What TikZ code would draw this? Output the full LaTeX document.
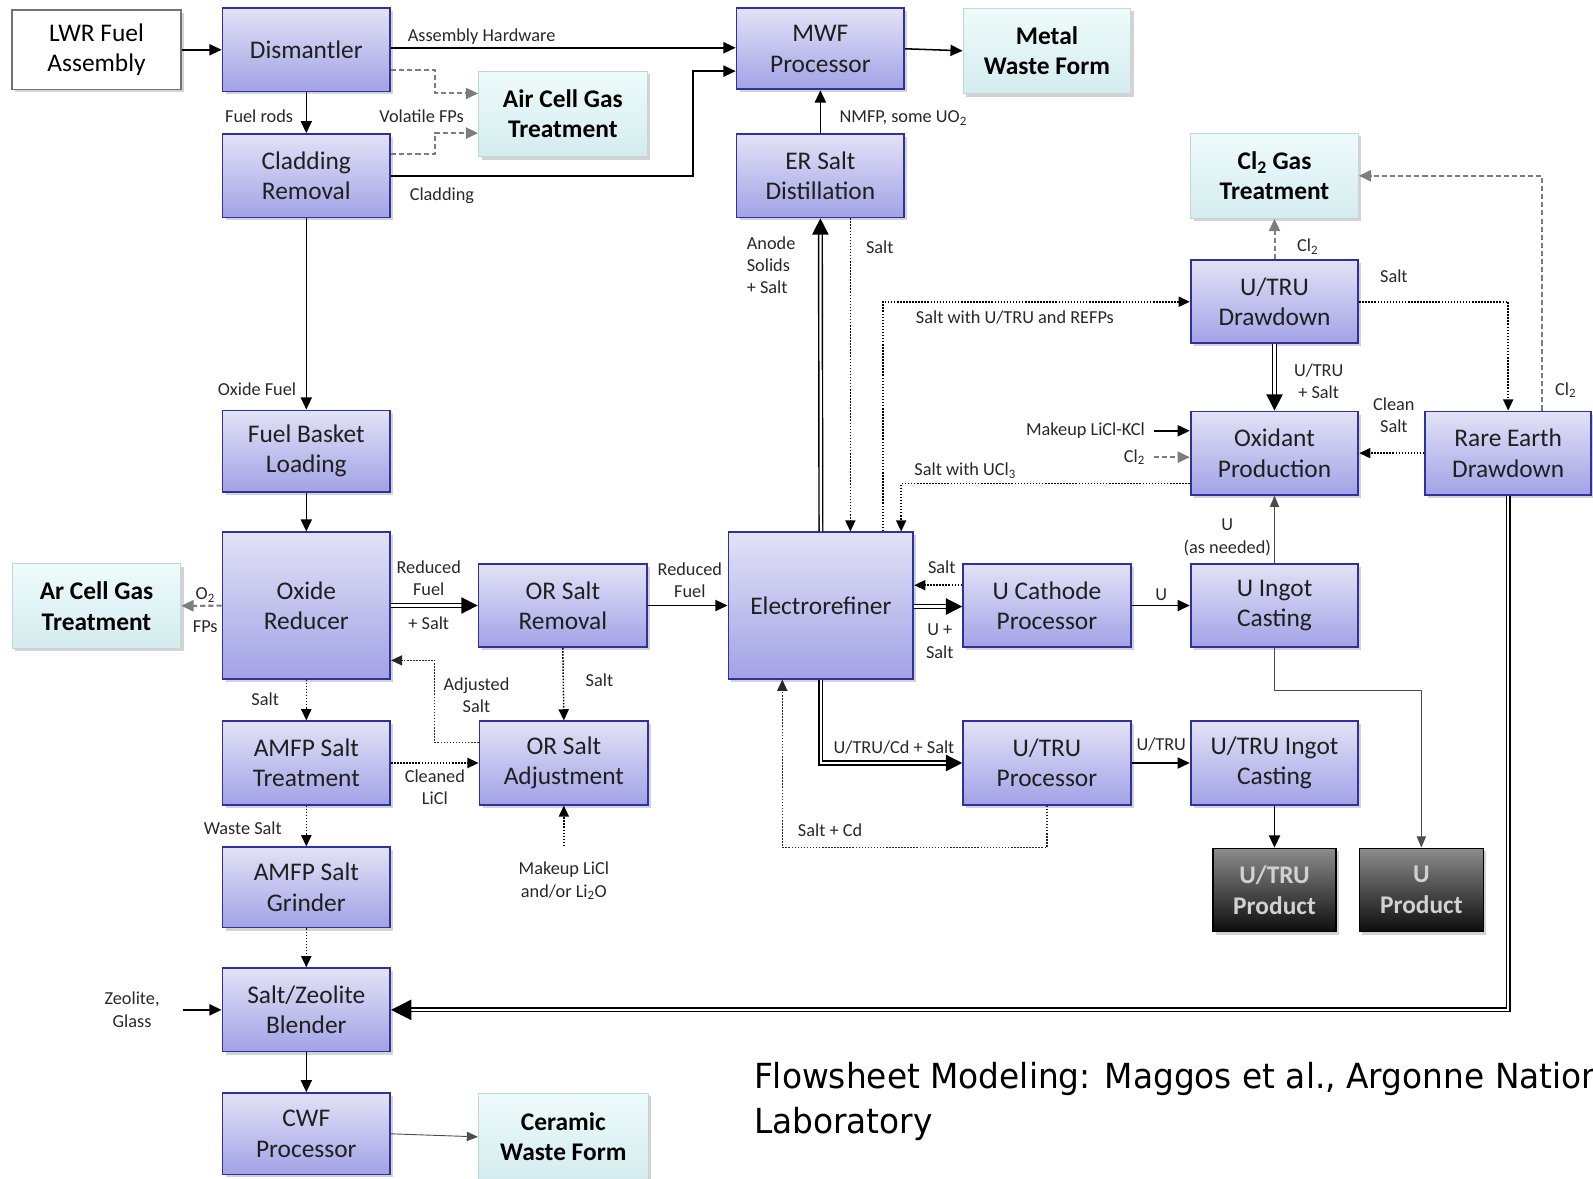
\documentclass[tikz,border=0pt]{standalone}
\usepackage{fontspec}
\setmainfont{Carlito}
\newfontfamily\footfont[FakeStretch=0.95]{DejaVu Sans}
\usetikzlibrary{arrows.meta,shadows,calc}
\definecolor{procT}{RGB}{226,226,246}
\definecolor{procB}{RGB}{162,162,230}
\definecolor{procD}{RGB}{48,48,160}
\definecolor{wasT}{RGB}{238,251,251}
\definecolor{wasB}{RGB}{212,236,238}
\definecolor{wasD}{RGB}{196,214,216}
\definecolor{lblc}{RGB}{40,40,40}
\definecolor{gline}{RGB}{125,125,125}
\begin{document}
\begin{tikzpicture}[x=1pt,y=-1pt,
  box/.style={minimum width=165pt, minimum height=82pt, inner sep=0pt, align=center,
    font=\fontsize{25}{30}\selectfont,
    drop shadow={shadow xshift=3pt,shadow yshift=-3pt,opacity=0.35}},
  proc/.style={box, draw=procD, line width=1.8pt, top color=procT, bottom color=procB, text=black!88},
  waste/.style={box, draw=wasD, line width=1pt, top color=wasT, bottom color=wasB,
    font=\fontsize{25}{30}\selectfont\bfseries},
  lwrbox/.style={box, draw=black!55, line width=1.5pt, fill=white},
  prod/.style={box, draw=black, line width=1.5pt, top color=black!45, bottom color=black!95,
    text=black!18, font=\fontsize{25}{30}\selectfont\bfseries},
  lbl/.style={font=\fontsize{18}{22}\selectfont, text=lblc, inner sep=0pt, align=center},
  arr/.style={draw=black, line width=1.5pt, -{Triangle[length=12pt,width=11pt]}},
  thinarr/.style={draw=black!70, line width=0.9pt, -{Triangle[length=11pt,width=9pt]}},
  dotarr/.style={draw=black, line width=1.5pt, dash pattern=on 1.5pt off 1.5pt, -{Triangle[length=11pt,width=10pt]}},
  dotthin/.style={draw=black!85, line width=1.1pt, dash pattern=on 1.5pt off 1.5pt, -{Triangle[length=11pt,width=10pt]}},
  gdash/.style={draw=gline, line width=2pt, dash pattern=on 5pt off 3pt, -{Triangle[length=12pt,width=11pt]}},
  dbl/.style={draw=black, line width=1.4pt, double=white, double distance=2.2pt, -{Triangle[length=16pt,width=16pt]}}
]
\useasboundingbox (0,0) rectangle (1568,1160);

% ---------- boxes ----------
\node[lwrbox, minimum width=166pt, minimum height=78pt] (lwr) at (95,49) {LWR Fuel\\Assembly};
\node[proc] (dis) at (301.5,49) {Dismantler};
\node[waste, minimum width=166pt, minimum height=84pt] (acg) at (554,112) {Air Cell Gas\\Treatment};
\node[proc] (clad) at (301.5,173) {Cladding\\Removal};
\node[proc, minimum height=80pt] (mwf) at (807.5,48) {MWF\\Processor};
\node[waste, minimum height=84pt] (mwfo) at (1030.5,50) {Metal\\Waste Form};
\node[proc] (ers) at (807.5,173) {ER Salt\\Distillation};
\node[waste, minimum height=84pt] (cl2) at (1254.5,173) {Cl\textsubscript{2} Gas\\Treatment};
\node[proc] (utd) at (1254.5,297) {U/TRU\\Drawdown};
\node[proc] (oxp) at (1254.5,446) {Oxidant\\Production};
\node[proc, minimum width=163pt] (red) at (1484.5,446) {Rare Earth\\Drawdown};
\node[proc, minimum height=80pt] (fbl) at (301.5,444) {Fuel Basket\\Loading};
\node[proc, minimum height=144pt] (oxr) at (301.5,596) {Oxide\\Reducer};
\node[waste, minimum width=166pt, minimum height=83pt] (arc) at (95,596.5) {Ar Cell Gas\\Treatment};
\node[proc, minimum width=166pt] (orr) at (554,596) {OR Salt\\Removal};
\node[proc, minimum width=182pt, minimum height=144pt] (er) at (808,596) {Electrorefiner};
\node[proc] (ucp) at (1030.5,596) {U Cathode\\Processor};
\node[proc] (uic) at (1254.5,596) {U Ingot\\Casting};
\node[proc] (amt) at (301.5,751) {AMFP Salt\\Treatment};
\node[proc, minimum width=166pt] (ora) at (555,751) {OR Salt\\Adjustment};
\node[proc] (utp) at (1030.5,751) {U/TRU\\Processor};
\node[proc] (uti) at (1254.5,751) {U/TRU Ingot\\Casting};
\node[prod, minimum width=121pt] (utprod) at (1254.5,876) {U/TRU\\Product};
\node[prod, minimum width=122pt] (uprod) at (1399,876) {U\\Product};
\node[proc, minimum height=79pt] (amg) at (301.5,873.5) {AMFP Salt\\Grinder};
\node[proc] (szb) at (301.5,994) {Salt/Zeolite\\Blender};
\node[proc, minimum height=80pt] (cwf) at (301.5,1116) {CWF\\Processor};
\node[waste, minimum width=167pt, minimum height=86pt] (cer) at (554.5,1119) {Ceramic\\Waste Form};

% ---------- free ends ----------
\coordinate (mk) at (1136,424);
\coordinate (clin) at (1136,450);
\coordinate (mkl) at (555,833);
\coordinate (zg) at (180,994);

% ---------- connectors ----------
\draw[arr] (lwr) -- (dis);
\draw[arr] (dis.east |- 0,47) -- (mwf.west |- 0,47);
\draw[gdash] (dis.east |- 0,69) -| (428,92) -- (acg.west |- 0,92);
\draw[gdash] (clad.east |- 0,152) -| (428,131) -- (acg.west |- 0,131);
\draw[arr] (dis) -- (clad);
\draw[arr] (clad.east) -| (682,70) -- (mwf.west |- 0,70);
\draw[arr] (clad) -- (fbl);
\draw[arr] (mwf.east) -- (mwfo.west);
\draw[arr] (ers) -- (mwf);
\draw[arr] (fbl) -- (oxr);
\draw[gdash] (oxr) -- (arc);
\draw[dbl] (oxr) -- (orr);
\draw[arr] (orr) -- (er);
\draw[dbl] (er.north) -- (ers.south);
\draw[dotarr] (ers.south -| 837,0) -- (er.north -| 837,0);
\draw[dotarr] (er.north -| 869,0) |- (utd.west);
\draw[dotarr] (oxp.west |- 0,476) -| (er.north -| 887,0);
\draw[gdash] (utd.north) -- (cl2.south);
\draw[dbl] (utd) -- (oxp);
\draw[dotarr] (utd.east) -| (red.north);
\draw[gdash] (red.north -| 1518,0) |- (cl2.east);
\draw[dotarr] (red) -- (oxp);
\draw[arr] (mk) -- (oxp.west |- mk);
\draw[gdash] (clin) -- (oxp.west |- clin);
\draw[thinarr] (uic) -- (oxp);
\draw[dotarr] (ucp.west |- 0,576) -- (er.east |- 0,576);
\draw[dbl] (er.east |- 0,597) -- (ucp.west |- 0,597);
\draw[arr] (ucp) -- (uic);
\draw[thinarr] (uic.south) |- (uprod.north |- 0,680) -- (uprod.north);
\draw[dbl] (er.south) |- (utp.west);
\draw[arr] (utp) -- (uti);
\draw[dotthin] (utp.south) |- (770,834) -- (er.south -| 770,0);
\draw[arr] (uti) -- (utprod);
\draw[dbl, -{Triangle[length=20pt,width=20pt]}] (red.south) |- (szb.east);
\draw[dotarr] (oxr) -- (amt);
\draw[dotthin] (ora.west |- 0,731) -| (428,650) -- (oxr.east |- 0,650);
\draw[dotarr] (orr.south) -- (ora.north);
\draw[dotarr] (amt) -- (ora);
\draw[dotarr] (mkl) -- (ora.south);
\draw[dotarr] (amt) -- (amg);
\draw[dotarr] (amg) -- (szb);
\draw[arr] (zg) -- (szb.west);
\draw[arr] (szb) -- (cwf);
\draw[thinarr] (cwf.east) -- (cer.west);

% ---------- labels ----------
\node[lbl] (l1) at (474,36) {Assembly Hardware};
\node[lbl] (l2) at (255,114) {Fuel rods};
\node[lbl] (l3) at (415,114) {Volatile FPs};
\node[lbl] (l4) at (435,193) {Cladding};
\node[lbl] (l5) at (889,116) {NMFP, some UO\textsubscript{2}};
\node[lbl] (l6) at (253,383) {Oxide Fuel};
\node[lbl, align=left] (l7) at (759,261) {Anode\\Solids\\+ Salt};
\node[lbl] (l8) at (866,243) {Salt};
\node[lbl] (l9) at (999,313) {Salt with U/TRU and REFPs};
\node[lbl] (l10) at (1287,243) {Cl\textsubscript{2}};
\node[lbl] (l11) at (1372,272) {Salt};
\node[lbl] (l12) at (1298,375) {U/TRU\\+ Salt};
\node[lbl] (l13) at (1372,409) {Clean\\Salt};
\node[lbl] (l14) at (1541,384) {Cl\textsubscript{2}};
\node[lbl, anchor=east] (l15) at (1127,424) {Makeup LiCl-KCl};
\node[lbl, anchor=east] (l16) at (1127,450) {Cl\textsubscript{2}};
\node[lbl] (l17) at (950,463) {Salt with UCl\textsubscript{3}};
\node[lbl] (l18) at (1208,529) {U\\(as needed)};
\node[lbl] (l19) at (422,569) {Reduced\\Fuel};
\node[lbl] (l20) at (422,613) {+ Salt};
\node[lbl] (l21) at (679,571) {Reduced\\Fuel};
\node[lbl] (l22) at (202,586) {O\textsubscript{2}};
\node[lbl] (l23) at (202,617) {FPs};
\node[lbl] (l24) at (927,558) {Salt};
\node[lbl] (l25) at (925,631) {U +\\Salt};
\node[lbl] (l26) at (1143,585) {U};
\node[lbl] (l27) at (261,688) {Salt};
\node[lbl] (l28) at (469,684) {Adjusted\\Salt};
\node[lbl] (l29) at (590,670) {Salt};
\node[lbl] (l30) at (880,736) {U/TRU/Cd + Salt};
\node[lbl] (l31) at (1143,733) {U/TRU};
\node[lbl] (l32) at (428,775) {Cleaned\\LiCl};
\node[lbl] (l33) at (817,817) {Salt + Cd};
\node[lbl] (l34) at (239,815) {Waste Salt};
\node[lbl] (l35) at (555,867) {Makeup LiCl\\and/or Li\textsubscript{2}O};
\node[lbl] (l36) at (130,994) {Zeolite,\\Glass};

% ---------- footer ----------
\node[anchor=base west, inner sep=0pt, font=\footfont\fontsize{34}{40}\selectfont] (ft1) at (742,1071) {Flowsheet Modeling: Maggos et al., Argonne National};
\node[anchor=base west, inner sep=0pt, font=\footfont\fontsize{34}{40}\selectfont] (ft2) at (742,1116) {Laboratory};
\end{tikzpicture}
\end{document}
